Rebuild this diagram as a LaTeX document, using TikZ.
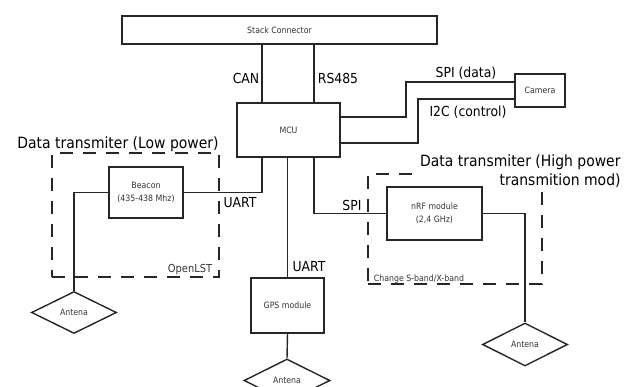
\documentclass[tikz,border=0pt]{standalone}
\usepackage{fontspec}
\setmainfont{DejaVu Sans}[FakeStretch=0.9]
\usetikzlibrary{shapes.geometric}
\begin{document}
\begin{tikzpicture}[x=1pt,y=-1pt,
  box/.style={draw=black!85, line width=1.4pt, rectangle, inner sep=0pt, align=center,
    font=\fontsize{8.7}{13}\selectfont, text=black!80},
  ant/.style={draw=black!85, line width=1.4pt, diamond, inner sep=0pt, minimum width=85pt,
    minimum height=42pt, font=\fontsize{8.7}{10}\selectfont, text=black!80},
  lbl/.style={inner sep=0pt, font=\fontsize{13.8}{16}\selectfont},
  ttl/.style={inner sep=3pt, align=right, font=\fontsize{15.5}{19}\selectfont},
  small/.style={inner sep=0pt, text=black!80},
  wire/.style={draw=black!85, line width=1.4pt},
  grp/.style={draw=black!85, line width=1.4pt, dash pattern=on 13pt off 10pt, inner sep=0pt}]
\clip (0,0) rectangle (627,387);
\fill[white] (0,0) rectangle (627,387);
% helper x positions
\coordinate (canx) at (262,0);
\coordinate (rsx) at (314,0);
% group frames
\node[grp, minimum width=167pt, minimum height=124pt] (lowgrp) at (135.5,215) {};
\node[grp, minimum width=174pt, minimum height=110pt] (highgrp) at (455,229) {};
% group titles
\node[ttl] (tlow) at (118,144) {Data transmiter (Low power)};
\node[ttl, fill=white, anchor=west] (thigh) at (417,171.5) {Data transmiter (High power\\transmition mod)};
% boxes
\node[box, minimum width=315pt, minimum height=28pt] (stack) at (279.5,30) {Stack Connector};
\node[box, minimum width=103pt, minimum height=54pt] (mcu) at (288.5,130) {MCU};
\node[box, minimum width=50pt, minimum height=33pt] (camera) at (540,90.5) {Camera};
\node[box, minimum width=74pt, minimum height=51pt] (beacon) at (146,192.5) {Beacon\\(435-438 Mhz)};
\node[box, minimum width=73pt, minimum height=55pt] (gps) at (287.5,305.5) {GPS module};
\node[box, fill=white, minimum width=95pt, minimum height=53pt] (nrf) at (434.5,213.5) {nRF module\\(2,4 GHz)};
\node[ant] (antL) at (74,312.5) {Antena};
\node[ant, minimum width=86pt, minimum height=43pt] (antG) at (287,380.5) {Antena};
\node[ant, minimum height=43pt] (antR) at (525,344.5) {Antena};
% connectors
\draw[wire] (stack.south -| canx) -- (mcu.north -| canx);
\draw[wire] (stack.south -| rsx) -- (mcu.north -| rsx);
\draw[wire] (mcu.east |- 0,117) -- (406,117) -- (406,82) -- (camera.west |- 0,82);
\draw[wire] (mcu.east |- 0,143) -- (418,143) -- (418,99) -- (camera.west |- 0,99);
\draw[wire] (beacon.east) -| (mcu.south -| canx);
\draw[wire] (beacon.west) -| (antL.north);
\draw[wire] (gps.north |- mcu.south) -- (gps.north);
\draw[wire] (mcu.south -| rsx) |- (nrf.west);
\draw[wire] (nrf.east) -| (antR.north);
\draw[wire] (gps.south) -- (antG.north);
% labels
\node[lbl] (lcan) at (246,78) {CAN};
\node[lbl] (lrs) at (338,78) {RS485};
\node[lbl] (lspid) at (466,73) {SPI (data)};
\node[lbl] (li2c) at (468,112) {I2C (control)};
\node[lbl] (luart1) at (240,203) {UART};
\node[lbl] (luart2) at (309,267) {UART};
\node[lbl] (lspi) at (352,205) {SPI};
\node[small, font=\fontsize{11}{13}\selectfont] (lopen) at (190,270) {OpenLST};
\node[small, font=\fontsize{8.7}{10}\selectfont] (lchg) at (419,279) {Change S-band/X-band};
\end{tikzpicture}
\end{document}
